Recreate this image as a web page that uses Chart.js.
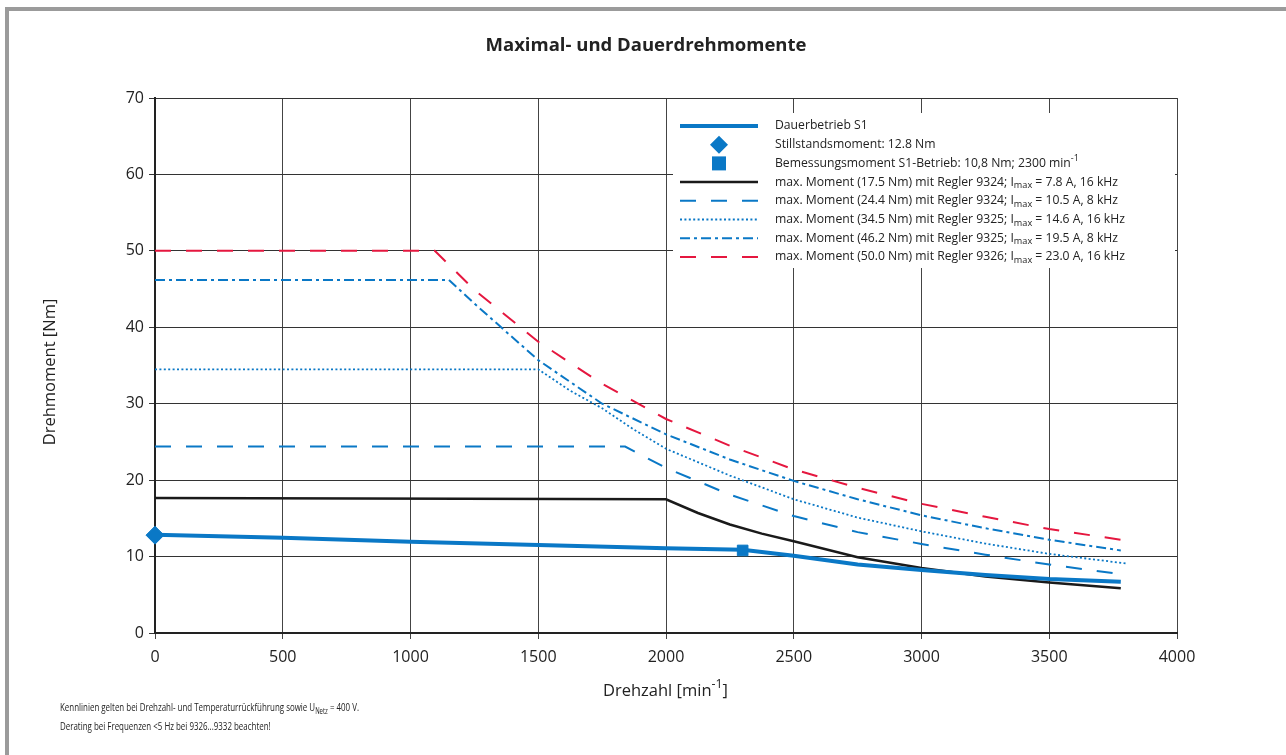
<!DOCTYPE html>
<html>
<head>
<meta charset="utf-8">
<script src="https://cdn.jsdelivr.net/npm/chart.js@4/dist/chart.umd.min.js"></script>
<style>
body{margin:0;background:#fff;}
#frame{position:absolute;left:5px;top:7px;width:1281px;height:748px;border-top:4px solid #9b9b9b;border-left:4px solid #9b9b9b;box-sizing:border-box;}
#c{position:absolute;left:0;top:0;}
</style>
</head>
<body>
<div id="frame"></div>
<canvas id="c" width="1286" height="755"></canvas>
<script>
// Werte (Drehzahl in min-1, Moment in Nm)
var xTicks = [0, 500, 1000, 1500, 2000, 2500, 3000, 3500, 4000];
var yTicks = [0, 10, 20, 30, 40, 50, 60, 70];

var rpmS1 = [0, 500, 1000, 1500, 2000, 2300, 2400, 2500, 2750, 3000, 3250, 3500, 3780];
var nmS1 = [12.85, 12.45, 11.95, 11.5, 11.1, 10.9, 10.5, 10.1, 8.95, 8.25, 7.6, 7.05, 6.7];

var rpmStill = [0];
var nmStill = [12.8];
var rpmBemess = [2300];
var nmBemess = [10.8];

var rpm9324a = [0, 2000, 2125, 2250, 2375, 2500, 2750, 3000, 3250, 3500, 3780];
var nm9324a = [17.65, 17.5, 15.7, 14.2, 13.0, 12.0, 9.9, 8.5, 7.4, 6.6, 5.85];

var rpm9324b = [0, 1840, 2000, 2250, 2500, 2750, 3000, 3250, 3500, 3780];
var nm9324b = [24.4, 24.4, 21.6, 18.1, 15.3, 13.2, 11.65, 10.25, 8.95, 7.7];

var rpm9325a = [0, 1500, 1625, 1750, 1875, 2000, 2250, 2500, 2750, 3000, 3250, 3500, 3800];
var nm9325a = [34.5, 34.5, 31.7, 29.4, 26.6, 24.1, 20.6, 17.5, 15.1, 13.3, 11.7, 10.35, 9.1];

var rpm9325b = [0, 1150, 1250, 1500, 1750, 2000, 2250, 2500, 2750, 3000, 3250, 3500, 3780];
var nm9325b = [46.2, 46.2, 43.1, 35.7, 30.0, 26.0, 22.7, 19.9, 17.5, 15.4, 13.7, 12.2, 10.8];

var rpm9326 = [0, 1095, 1250, 1500, 1750, 2000, 2250, 2500, 2750, 3000, 3250, 3500, 3780];
var nm9326 = [50, 50, 44.9, 38.1, 32.6, 28.0, 24.5, 21.4, 19.0, 16.9, 15.2, 13.6, 12.2];

var blau = '#0a78c6';
var rot = '#e5173f';
var txt = '#222';

function punkte(xs, ys){
	var out = [];
	for (var i = 0; i < xs.length; i++){
		out.push({x: xs[i], y: ys[i]});
	}
	return out;
}

// Legende: [text, modus] modus '' normal, 'sub', 'sup'
var legende = [
	{farbe: blau, breite: 4, dash: [], text: [['Dauerbetrieb S1', '']]},
	{farbe: blau, marker: 'raute', text: [['Stillstandsmoment: 12.8 Nm', '']]},
	{farbe: blau, marker: 'quadrat', text: [['Bemessungsmoment S1-Betrieb: 10,8 Nm; 2300 min', ''], ['-1', 'sup']]},
	{farbe: '#1a1a1a', breite: 2.5, dash: [], text: [['max. Moment (17.5 Nm) mit Regler 9324; I', ''], ['max', 'sub'], [' = 7.8 A, 16 kHz', '']]},
	{farbe: blau, breite: 2, dash: [16, 15], text: [['max. Moment (24.4 Nm) mit Regler 9324; I', ''], ['max', 'sub'], [' = 10.5 A, 8 kHz', '']]},
	{farbe: blau, breite: 1.8, dash: [2, 2.4], text: [['max. Moment (34.5 Nm) mit Regler 9325; I', ''], ['max', 'sub'], [' = 14.6 A, 16 kHz', '']]},
	{farbe: blau, breite: 2, dash: [10, 4, 3, 4], text: [['max. Moment (46.2 Nm) mit Regler 9325; I', ''], ['max', 'sub'], [' = 19.5 A, 8 kHz', '']]},
	{farbe: rot, breite: 2, dash: [16, 15], text: [['max. Moment (50.0 Nm) mit Regler 9326; I', ''], ['max', 'sub'], [' = 23.0 A, 16 kHz', '']]}
];

function richText(ctx, x, y, teile, familie, groesse, gewicht){
	var cx = x;
	for (var i = 0; i < teile.length; i++){
		var t = teile[i][0], m = teile[i][1];
		var s = groesse, dy = 0;
		if (m === 'sub'){ s = groesse * 0.75; dy = groesse * 0.3; }
		if (m === 'sup'){ s = groesse * 0.75; dy = -groesse * 0.4; }
		ctx.font = (gewicht || '') + ' ' + s + 'px ' + familie;
		ctx.fillText(t, cx, y + dy);
		cx += ctx.measureText(t).width;
	}
	return cx;
}

var beschriftung = {
	id: 'beschriftung',
	afterDraw: function(chart){
		var ctx = chart.ctx;
		ctx.save();
		ctx.fillStyle = txt;
		ctx.textBaseline = 'middle';

		// Titel
		ctx.textAlign = 'center';
		ctx.font = 'bold 18.5px "Open Sans"';
		ctx.fillText('Maximal- und Dauerdrehmomente', 646, 46);

		// Achsentitel
		ctx.textAlign = 'left';
		richText(ctx, 603, 691, [['Drehzahl [min', ''], ['-1', 'sup'], [']', '']], '"Open Sans"', 16.5);
		ctx.save();
		ctx.translate(50, 372);
		ctx.rotate(-Math.PI / 2);
		ctx.textAlign = 'center';
		ctx.font = '16.5px "Open Sans"';
		ctx.fillText('Drehmoment [Nm]', 0, 0);
		ctx.restore();

		// Fussnote (schmale Schrift)
		ctx.save();
		ctx.translate(60, 0);
		ctx.scale(0.69, 1);
		richText(ctx, 0, 708, [['Kennlinien gelten bei Drehzahl- und Temperaturrückführung sowie U', ''], ['Netz', 'sub'], [' = 400 V.', '']], '"Open Sans"', 11.5);
		richText(ctx, 0, 727, [['Derating bei Frequenzen <5 Hz bei 9326...9332 beachten!', '']], '"Open Sans"', 11.5);
		ctx.restore();

		// Legende
		ctx.fillStyle = '#fff';
		ctx.fillRect(673, 113, 502, 155);
		for (var i = 0; i < legende.length; i++){
			var e = legende[i];
			var y = 126 + i * 18.7;
			if (e.marker === 'raute'){
				ctx.fillStyle = e.farbe;
				ctx.beginPath();
				ctx.moveTo(719, y - 9); ctx.lineTo(728, y); ctx.lineTo(719, y + 9); ctx.lineTo(710, y);
				ctx.closePath(); ctx.fill();
			} else if (e.marker === 'quadrat'){
				ctx.fillStyle = e.farbe;
				ctx.fillRect(712, y - 7, 14, 14);
			} else {
				ctx.strokeStyle = e.farbe;
				ctx.lineWidth = e.breite;
				ctx.setLineDash(e.dash);
				ctx.beginPath();
				ctx.moveTo(680, y); ctx.lineTo(758, y);
				ctx.stroke();
				ctx.setLineDash([]);
			}
			ctx.fillStyle = txt;
			richText(ctx, 775, y, e.text, '"Open Sans"', 12.2);
		}
		ctx.restore();
	}
};

function linie(label, xs, ys, farbe, breite, dash){
	return {
		label: label,
		data: punkte(xs, ys),
		borderColor: farbe,
		backgroundColor: farbe,
		borderWidth: breite,
		borderDash: dash,
		pointRadius: 0,
		fill: false,
		tension: 0
	};
}

var ctx = document.getElementById('c').getContext('2d');
var chart = new Chart(ctx, {
	type: 'line',
	data: {
		datasets: [
			{label: 'Stillstandsmoment', data: punkte(rpmStill, nmStill), showLine: false, clip: false, pointStyle: 'rectRot', pointRadius: 9, backgroundColor: blau, borderColor: blau},
			{label: 'Bemessungsmoment', data: punkte(rpmBemess, nmBemess), showLine: false, clip: false, pointStyle: 'rect', pointRadius: 7.5, backgroundColor: blau, borderColor: blau},
			linie('Dauerbetrieb S1', rpmS1, nmS1, blau, 4, []),
			linie('9324 7.8 A', rpm9324a, nm9324a, '#1a1a1a', 2.5, []),
			linie('9324 10.5 A', rpm9324b, nm9324b, blau, 2, [16, 15]),
			linie('9325 14.6 A', rpm9325a, nm9325a, blau, 1.8, [2, 2.4]),
			linie('9325 19.5 A', rpm9325b, nm9325b, blau, 2, [10, 4, 3, 4]),
			linie('9326 23.0 A', rpm9326, nm9326, rot, 2, [16, 15])
		]
	},
	options: {
		responsive: false,
		animation: false,
		layout: {padding: {left: 0, top: 98, right: 109, bottom: 0}},
		plugins: {legend: {display: false}, tooltip: {enabled: false}, title: {display: false}},
		scales: {
			x: {
				type: 'linear', min: 0, max: 4000,
				afterFit: function(s){ s.height = 122; },
				afterBuildTicks: function(s){ s.ticks = xTicks.map(function(v){ return {value: v}; }); },
				ticks: {color: txt, font: {family: '"Open Sans"', size: 16}, padding: 9, maxRotation: 0,
					callback: function(v){ return String(v); }},
				grid: {color: '#444', lineWidth: 1, tickLength: 6},
				border: {color: '#222', width: 2}
			},
			y: {
				min: 0, max: 70,
				afterFit: function(s){ s.width = 155; },
				afterBuildTicks: function(s){ s.ticks = yTicks.map(function(v){ return {value: v}; }); },
				ticks: {color: txt, font: {family: '"Open Sans"', size: 16}, padding: 5,
					callback: function(v){ return String(v); }},
				grid: {color: '#333', lineWidth: 1, tickLength: 6},
				border: {color: '#222', width: 2}
			}
		}
	},
	plugins: [beschriftung]
});
</script>
</body>
</html>
